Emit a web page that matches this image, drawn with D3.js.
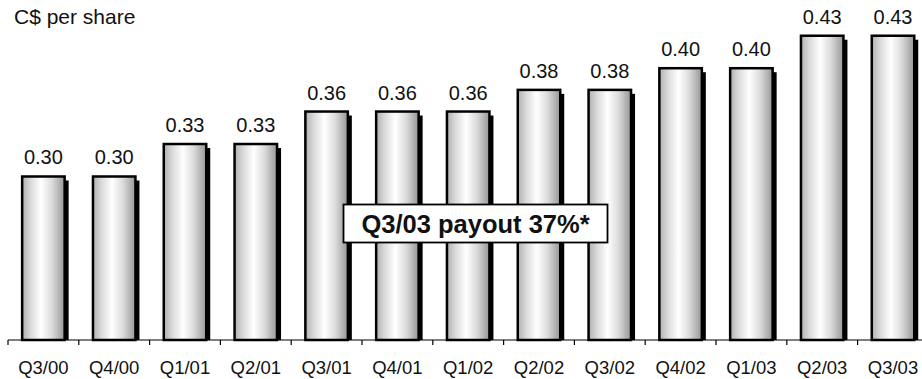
<!DOCTYPE html>
<html>
<head>
<meta charset="utf-8">
<script src="https://cdn.jsdelivr.net/npm/d3@7"></script>
<style>
  html, body { margin: 0; padding: 0; background: #fff; }
  svg { display: block; font-family: Arial, "Liberation Sans", sans-serif; }
</style>
</head>
<body>
<svg id="chart" width="922" height="379"></svg>
<script>
// Quarterly dividend per share (C$)
const quarters = ["Q3/00", "Q4/00", "Q1/01", "Q2/01", "Q3/01", "Q4/01", "Q1/02",
                  "Q2/02", "Q3/02", "Q4/02", "Q1/03", "Q2/03", "Q3/03"];
const dividends = [0.30, 0.30, 0.33, 0.33, 0.36, 0.36, 0.36, 0.38, 0.38, 0.40, 0.40, 0.43, 0.43];
const unitLabel = "C$ per share";
const calloutText = "Q3/03 payout 37%*";

const svg = d3.select("#chart");
const baseY = 340;

const x = d3.scaleBand()
  .domain(quarters)
  .range([8, 8 + 13 * 70.8])
  .paddingInner(0.4)
  .paddingOuter(0.2);

const y = d3.scaleLinear()
  .domain([0.149, 0.463])
  .range([baseY, 0]);

// metallic cylinder shading
const grad = svg.append("defs").append("linearGradient")
  .attr("id", "barShade").attr("x1", "0%").attr("x2", "100%").attr("y1", "0%").attr("y2", "0%");
[[0, "#b0b0b0"], [0.2, "#dadada"], [0.45, "#ffffff"], [0.7, "#dcdcdc"], [1, "#969696"]]
  .forEach(([o, c]) => grad.append("stop").attr("offset", o).attr("stop-color", c));

const data = quarters.map((q, i) => ({ q, v: dividends[i] }));

// drop shadows
svg.append("g").selectAll("rect").data(data).join("rect")
  .attr("x", d => x(d.q) + 4)
  .attr("y", d => y(d.v) + 4)
  .attr("width", x.bandwidth())
  .attr("height", d => baseY - y(d.v) - 4)
  .attr("fill", "#000");

// bars
svg.append("g").selectAll("rect").data(data).join("rect")
  .attr("x", d => x(d.q))
  .attr("y", d => y(d.v))
  .attr("width", x.bandwidth())
  .attr("height", d => baseY - y(d.v))
  .attr("fill", "url(#barShade)")
  .attr("stroke", "#000")
  .attr("stroke-width", 2.5);

// value labels
svg.append("g").selectAll("text").data(data).join("text")
  .attr("x", d => x(d.q) + x.bandwidth() / 2)
  .attr("y", d => y(d.v) - 12)
  .attr("text-anchor", "middle")
  .attr("font-size", 20)
  .attr("fill", "#111")
  .text(d => d.v.toFixed(2));

// category axis
const gap = x.step() - x.bandwidth();
svg.append("line")
  .attr("x1", 8).attr("x2", 922)
  .attr("y1", baseY).attr("y2", baseY)
  .attr("stroke", "#000").attr("stroke-width", 1.2);
svg.append("g").selectAll("line").data(quarters).join("line")
  .attr("x1", d => x(d) - gap / 2).attr("x2", d => x(d) - gap / 2)
  .attr("y1", baseY).attr("y2", baseY + 5)
  .attr("stroke", "#000").attr("stroke-width", 1.2);
svg.append("g").selectAll("text").data(quarters).join("text")
  .attr("x", d => x(d) + x.bandwidth() / 2)
  .attr("y", 374)
  .attr("text-anchor", "middle")
  .attr("font-size", 18.5)
  .attr("fill", "#111")
  .text(d => d);

// unit label
svg.append("text")
  .attr("x", 14).attr("y", 24)
  .attr("font-size", 21)
  .attr("fill", "#111")
  .text(unitLabel);

// payout callout
svg.append("rect")
  .attr("x", 343.5).attr("y", 204.5)
  .attr("width", 264).attr("height", 38)
  .attr("fill", "#fff").attr("stroke", "#000").attr("stroke-width", 1.8);
svg.append("text")
  .attr("x", 475.5).attr("y", 233)
  .attr("text-anchor", "middle")
  .attr("font-size", 25.5)
  .attr("font-weight", "bold")
  .attr("fill", "#111")
  .text(calloutText);
</script>
</body>
</html>
